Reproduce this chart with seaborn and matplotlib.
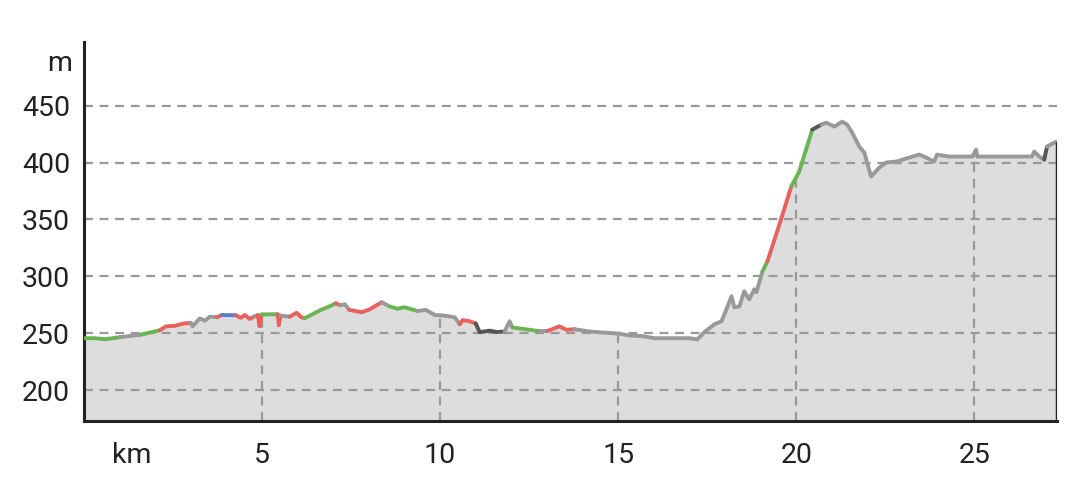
import numpy as np
import pandas as pd
import matplotlib
matplotlib.use("Agg")
import matplotlib.pyplot as plt
import seaborn as sns

# ---- data ----
dist_km = [0.00, 0.31, 0.59, 1.01, 1.60, 2.13, 2.30, 2.55, 2.80, 3.00, 3.05, 3.25, 3.40, 3.53,
           3.73, 3.87, 4.26, 4.40, 4.52, 4.65, 4.80, 4.88, 4.93, 4.99, 5.44, 5.47, 5.52, 5.78,
           5.97, 6.10, 6.20, 6.62, 6.90, 7.07, 7.20, 7.32, 7.45, 7.80, 8.02, 8.36, 8.58, 8.80,
           9.00, 9.37, 9.60, 9.85, 10.10, 10.41, 10.55, 10.63, 10.83, 11.00, 11.11, 11.39, 11.60,
           11.81, 11.95, 12.03, 12.79, 13.02, 13.35, 13.55, 13.77, 14.19, 14.61, 15.04, 15.30,
           15.68, 16.02, 17.00, 17.22, 17.42, 17.70, 17.90, 18.04, 18.18, 18.26, 18.40, 18.54,
           18.68, 18.82, 18.88, 19.05, 19.19, 19.52, 19.86, 20.08, 20.45, 20.70, 20.84, 21.07,
           21.29, 21.43, 21.57, 21.77, 21.91, 22.10, 22.33, 22.52, 22.81, 23.17, 23.45, 23.65,
           23.87, 23.95, 24.29, 24.94, 25.05, 25.08, 25.89, 26.62, 26.68, 26.82, 26.96, 27.04,
           27.24, 27.32]
elev_m = [245.6, 245.6, 244.7, 246.5, 248.7, 252.6, 256.0, 256.5, 258.5, 259.0, 256.0, 263.0,
          261.0, 264.5, 264.0, 266.0, 265.8, 263.5, 266.0, 262.5, 265.0, 266.0, 256.0, 266.5,
          266.7, 257.0, 265.5, 264.5, 268.0, 264.0, 263.2, 270.0, 273.7, 276.3, 274.5, 275.5,
          270.5, 268.4, 271.0, 277.2, 273.5, 271.5, 272.8, 269.5, 270.5, 266.0, 265.5, 264.0,
          257.9, 261.5, 260.5, 258.5, 250.9, 252.2, 251.0, 251.5, 260.5, 255.0, 251.8, 252.0,
          256.0, 253.0, 253.5, 251.5, 250.5, 249.5, 248.0, 247.4, 245.6, 245.6, 244.5, 250.9,
          257.9, 260.5, 271.1, 282.5, 272.8, 273.5, 286.8, 279.8, 288.6, 286.0, 304.4, 313.2,
          345.0, 379.0, 392.0, 429.0, 433.3, 435.1, 431.6, 436.0, 433.3, 426.3, 414.0, 408.8,
          387.7, 395.6, 400.0, 400.9, 404.4, 407.0, 404.4, 400.9, 407.0, 405.3, 405.3, 411.4,
          405.3, 405.3, 405.3, 409.7, 405.3, 402.6, 414.0, 417.5, 418.4]
# colour class of the segment starting at each point, as (class, count) runs
class_runs = [("g", 3), ("n", 1), ("g", 1), ("r", 4), ("n", 5), ("r", 1), ("b", 1), ("r", 4),
              ("n", 1), ("r", 2), ("g", 1), ("r", 2), ("n", 1), ("r", 3), ("g", 3), ("r", 1),
              ("n", 2), ("r", 3), ("n", 1), ("g", 3), ("n", 5), ("r", 3), ("d", 4), ("n", 2),
              ("g", 1), ("n", 1), ("r", 3), ("n", 20), ("g", 1), ("r", 2), ("g", 2), ("d", 1),
              ("n", 25), ("d", 1), ("n", 2)]
class_colors = {"g": "#6ab553", "r": "#e8615c", "b": "#5b7fd0", "n": "#999999", "d": "#555555"}

x_ticks = [5, 10, 15, 20, 25]
y_ticks = [200, 250, 300, 350, 400, 450]
x_unit, y_unit = "km", "m"
xlim = (0, 27.32)
ylim = (172.8, 506)

# ---- build run table ----
n = len(dist_km)
seg_class = [c for c, k in class_runs for _ in range(k)]
seg_class = (seg_class + ["n"] * n)[:n - 1]
rows = []
run = 0
for i in range(n - 1):
    if i > 0 and seg_class[i] != seg_class[i - 1]:
        run += 1
    for j in (i, i + 1):
        rows.append({"km": dist_km[j], "m": elev_m[j], "run": run, "cls": seg_class[i]})
df = pd.DataFrame(rows)
run_palette = {r: class_colors[c] for r, c in df.groupby("run")["cls"].first().items()}

sns.set_theme(style="white")
plt.rcParams["font.family"] = ["Roboto", "DejaVu Sans"]

fig = plt.figure(figsize=(10.8, 5), dpi=100)
ax = fig.add_axes([84 / 1080, 79 / 500, (1057 - 84) / 1080, (421 - 42) / 500])

ax.fill_between(dist_km, elev_m, ylim[0], color="#dddddd", zorder=1, linewidth=0)

for yt in y_ticks:
    ax.axhline(yt, color="#999999", lw=1.6, ls=(0, (4, 3)), zorder=2)
for xt in x_ticks:
    ax.vlines(xt, ylim[0], np.interp(xt, dist_km, elev_m), color="#999999", lw=1.6,
              ls=(0, (4, 3)), zorder=2)

sns.lineplot(data=df, x="km", y="m", hue="run", units="run", estimator=None, sort=False,
             palette=run_palette, legend=False, lw=2.8, ax=ax, zorder=3,
             solid_capstyle="round", solid_joinstyle="round")

ax.vlines(dist_km[-1], ylim[0], elev_m[-1], color="#222222", lw=2.5, zorder=4)

ax.set_xlim(*xlim)
ax.set_ylim(*ylim)
ax.set_xticks(x_ticks)
ax.set_yticks(y_ticks)
ax.set_xticklabels([str(t) for t in x_ticks])
ax.set_yticklabels([str(t) for t in y_ticks])
ax.tick_params(axis="both", length=0, labelsize=20.5, labelcolor="#222222")
ax.tick_params(axis="x", pad=15)
ax.tick_params(axis="y", pad=10)
ax.set_xlabel("")
ax.set_ylabel("")
ax.text(1.35, -0.092, x_unit, transform=ax.get_xaxis_transform(), ha="center", va="center",
        fontsize=20.5, color="#222222")
ax.text(-12 / 973, 487, y_unit, transform=ax.get_yaxis_transform(), ha="right",
        va="center", fontsize=20.5, color="#222222")

for s in ["top", "right"]:
    ax.spines[s].set_visible(False)
for s in ["left", "bottom"]:
    ax.spines[s].set_color("#222222")
    ax.spines[s].set_linewidth(2.2)

fig.savefig("out.png", dpi=100, facecolor="white")
